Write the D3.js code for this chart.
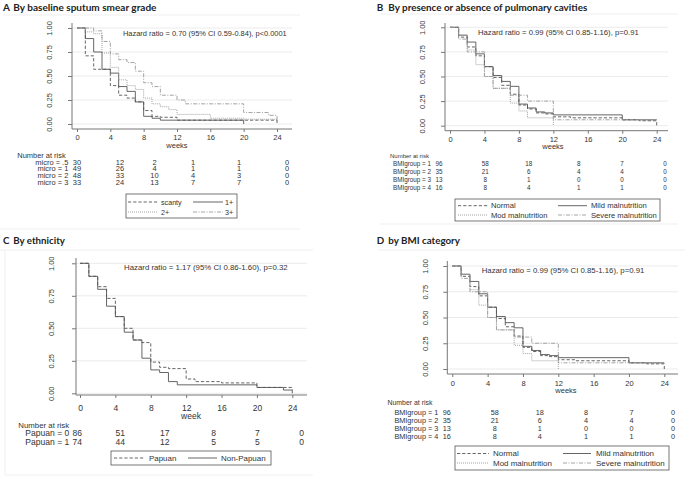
<!DOCTYPE html>
<html><head><meta charset="utf-8">
<script src="https://cdn.jsdelivr.net/npm/d3@7"></script>
<style>
body{margin:0;background:#fff;}
svg text{font-family:"Liberation Sans",Arial,sans-serif;fill:#333;}
svg text.title{font-family:Lato,"Open Sans",sans-serif;font-weight:700;fill:#222;}
</style></head><body>
<svg id="c" width="689" height="479"></svg>
<script>
// ---------- shared tick values ----------
const weekTicks = [0, 4, 8, 12, 16, 20, 24];
const survTicks = [0, 0.25, 0.5, 0.75, 1];

// ---------- Panel A: sputum smear grade ----------
const smearScanty = [[0,1],[1,.71],[2,.57],[4,.40],[5,.30],[6,.27],[7,.23],[8,.14],[9,.08],[10,.07],[12,.04],[24,0]];
const smearOne    = [[0,1],[1,.89],[2,.75],[3,.57],[4,.53],[5,.39],[6,.34],[7,.23],[8,.08],[9,.06],[10,.04],[20,0]];
const smearTwo    = [[0,1],[1,.96],[2,.94],[3,.74],[4,.59],[5,.46],[6,.40],[7,.36],[8,.27],[9,.21],[10,.18],[11,.15],[12,.10],[16,.06],[20,.05],[24,0]];
const smearThree  = [[0,1],[2,.97],[3,.86],[4,.73],[5,.67],[6,.64],[7,.55],[8,.43],[9,.39],[10,.30],[12,.25],[13,.21],[20,.12],[23,.09],[24,0]];
const riskLabelsA = ["micro = .5", "micro = 1", "micro = 2", "micro = 3"];
const riskA = [[30,12,2,1,1,0],[49,26,4,1,1,0],[48,33,10,4,3,0],[33,24,13,7,7,0]];
const legendA = ["scanty", "1+", "2+", "3+"];

// ---------- Panels B and D: BMI groups ----------
const bmiNormal = [[0,1],[1,.90],[2,.80],[3,.71],[4,.60],[5,.49],[6,.41],[7,.32],[8,.21],[9,.17],[10,.13],[11,.12],[12,.09],[14,.08],[20,.06],[22,.05],[24,0]];
const bmiMild   = [[0,1],[1,.92],[2,.85],[3,.73],[4,.60],[5,.51],[6,.45],[7,.40],[8,.22],[9,.18],[10,.14],[11,.13],[12,.11],[20,.06],[24,.06]];
const bmiMod    = [[0,1],[1,.92],[2,.77],[3,.62],[4,.50],[5,.38],[7,.23],[8,.15],[9,.08],[12,0]];
const bmiSevere = [[0,1],[1,.88],[2,.75],[4,.50],[5,.38],[7,.31],[9,.25],[12,.06],[24,.06]];
const riskLabelsBMI = ["BMIgroup = 1", "BMIgroup = 2", "BMIgroup = 3", "BMIgroup = 4"];
const riskBMI = [[96,58,18,8,7,0],[35,21,6,4,4,0],[13,8,1,0,0,0],[16,8,4,1,1,0]];
const legendBMI = ["Normal", "Mild malnutrition", "Mod malnutrition", "Severe malnutrition"];

// ---------- Panel C: ethnicity ----------
const papuan    = [[0,1],[1,.90],[2,.82],[3,.73],[4,.59],[5,.50],[6,.41],[7,.39],[8,.24],[9,.20],[10,.19],[12,.11],[13,.09],[16,.08],[20,.045],[24,.03]];
const nonPapuan = [[0,1],[1,.90],[2,.80],[3,.67],[4,.59],[5,.47],[6,.41],[7,.27],[8,.18],[9,.16],[10,.09],[11,.065],[20,.045],[23,.025],[24,0]];
const riskLabelsC = ["Papuan = 0", "Papuan = 1"];
const riskC = [[86,51,17,8,7,0],[74,44,12,5,5,0]];
const legendC = ["Papuan", "Non-Papuan"];

const hrTexts = [
  "Hazard ratio = 0.70 (95% CI 0.59-0.84), p<0.0001",
  "Hazard ratio = 0.99 (95% CI 0.85-1.16), p=0.91",
  "Hazard ratio = 1.17 (95% CI 0.86-1.60), p=0.32",
  "Hazard ratio = 0.99 (95% CI 0.85-1.16), p=0.91"
];

// ---------- styles ----------
const STY = {
  dash:    {stroke:"#555", dash:"3.2,2"},
  solid:   {stroke:"#555", dash:null},
  dot:     {stroke:"#9a9a9a", dash:"1,1"},
  dashdot: {stroke:"#9a9a9a", dash:"4,1.5,1,1.5"}
};
const BODY = '"Liberation Sans",Arial,sans-serif';
const HEAD = 'Lato,"Open Sans",sans-serif';

const panels = [
  { letter:"A", sub:"By baseline sputum smear grade", letterX:3, subX:13.3, titleY:10.5, subW:143.4,
    sep:[[3,15,300,15],[0,229,300,229]],
    axisX:72, axisXEnd:292, axisYTop:23, axisY:129, x0:77, x24:277, y1:28, y0:124,
    ylabX:49, tickFont:7.5, xlabY:137.3, xTitle:"weeks", xTitleX:177, xTitleY:145,
    hr:hrTexts[0], hrX:123, hrY:33, hrW:164,
    series:[{d:smearScanty,s:"dash"},{d:smearOne,s:"solid"},{d:smearTwo,s:"dot"},{d:smearThree,s:"dashdot"}],
    narX:17.3, narY:155, narW:48.4, rowRight:68.3, labW:33, rowY0:162, rowStep:6.7,
    riskCols:[77,120,154.5,193,239,287], riskLabels:riskLabelsA, risk:riskA,
    leg:{x:126,y:194,w:111,h:24, ref:legendA[0], refW:20.7, items:[
      {t:legendA[0],s:"dash",l0:128,l1:158,tx:161,ty:202},
      {t:legendA[1],s:"solid",l0:193,l1:223,tx:225,ty:202},
      {t:legendA[2],s:"dot",l0:128,l1:158,tx:161,ty:212},
      {t:legendA[3],s:"dashdot",l0:193,l1:223,tx:225,ty:212}]}
  },
  { letter:"B", sub:"By presence or absence of pulmonary cavities", letterX:376.7, subX:388.3, titleY:10.5, subW:199,
    sep:[[380,14,678,14],[380,224,678,224]],
    axisX:445, axisXEnd:668, axisYTop:23, axisY:130.7, x0:450, x24:656.7, y1:27.3, y0:125.7,
    ylabX:422.7, tickFont:7.5, xlabY:139.3, xTitle:"weeks", xTitleX:553, xTitleY:146,
    hr:hrTexts[1], hrX:478, hrY:32, hrW:161,
    series:[{d:bmiNormal,s:"dash"},{d:bmiMild,s:"solid"},{d:bmiMod,s:"dot"},{d:bmiSevere,s:"dashdot"}],
    narX:390, narY:155.7, narW:39, rowRight:431, labW:38, rowY0:164, rowStep:7.8,
    riskCols:[439,485.3,528.8,578.7,622,665], riskLabels:riskLabelsBMI, risk:riskBMI,
    leg:{x:455,y:199,w:205,h:22, ref:legendBMI[1], refW:55.7, items:[
      {t:legendBMI[0],s:"dash",l0:458,l1:488,tx:491,ty:205.7},
      {t:legendBMI[1],s:"solid",l0:558,l1:587,tx:591,ty:205.7},
      {t:legendBMI[2],s:"dot",l0:458,l1:488,tx:491,ty:215},
      {t:legendBMI[3],s:"dashdot",l0:558,l1:587,tx:591,ty:215}]}
  },
  { letter:"C", sub:"By ethnicity", letterX:3, subX:13.3, titleY:244, subW:51.7,
    sep:[[0,250,313,250],[5,475,313,475],[5,250,5,475]],
    axisX:76, axisXEnd:307, axisYTop:258, axisY:395, x0:80, x24:292.3, y1:263.3, y0:393.3,
    ylabX:51.7, tickFont:8.5, xlabY:408.3, xTitle:"week", xTitleX:191, xTitleY:416,
    hr:hrTexts[2], hrX:124, hrY:267, hrW:164,
    series:[{d:papuan,s:"dash"},{d:nonPapuan,s:"solid"}],
    narX:18.3, narY:425, narW:51, rowRight:69.3, labW:44, rowY0:433.3, rowStep:9,
    riskCols:[77.3,120.3,164.8,213.7,257.3,301.7], riskLabels:riskLabelsC, risk:riskC,
    leg:{x:111,y:451,w:160,h:14, ref:legendC[1], refW:44.7, items:[
      {t:legendC[0],s:"dash",l0:114,l1:144,tx:149,ty:458},
      {t:legendC[1],s:"solid",l0:188,l1:217,tx:221,ty:458}]}
  },
  { letter:"D", sub:"by BMI category", letterX:376.7, subX:388.3, titleY:244.3, subW:71.7,
    sep:[[378,250,685,250]],
    axisX:447.3, axisXEnd:678, axisYTop:261, axisY:374, x0:452.3, x24:664.3, y1:266, y0:369,
    ylabX:425, tickFont:7.5, xlabY:383, xTitle:"weeks", xTitleX:566, xTitleY:390,
    hr:hrTexts[3], hrX:481.7, hrY:270, hrW:163,
    series:[{d:bmiNormal,s:"dash"},{d:bmiMild,s:"solid"},{d:bmiMod,s:"dot"},{d:bmiSevere,s:"dashdot"}],
    narX:387.5, narY:403, narW:45, rowRight:438.3, labW:44, rowY0:412, rowStep:8,
    riskCols:[446.8,494.7,539.8,586,631.5,673], riskLabels:riskLabelsBMI, risk:riskBMI,
    leg:{x:455,y:446,w:214,h:24, ref:legendBMI[3], refW:68.7, items:[
      {t:legendBMI[0],s:"dash",l0:457,l1:489,tx:493,ty:453.5},
      {t:legendBMI[1],s:"solid",l0:563,l1:591,tx:596,ty:453.5},
      {t:legendBMI[2],s:"dot",l0:457,l1:489,tx:493,ty:463},
      {t:legendBMI[3],s:"dashdot",l0:563,l1:591,tx:596,ty:463}]}
  }
];

const svg = d3.select("#c");

// font size that makes a string span a given width
function fitSize(str, width, family, weight){
  const t = svg.append("text").attr("font-size",20).style("font-family",family)
    .style("font-weight",weight||400).text(str);
  const w = t.node().getComputedTextLength();
  t.remove();
  return w > 0 ? 20*width/w : 8;
}

function styleLine(sel, s){
  sel.attr("stroke", STY[s].stroke).attr("stroke-width", 0.9).attr("fill","none");
  if (STY[s].dash) sel.attr("stroke-dasharray", STY[s].dash);
}

function drawPanel(p){
  const g = svg.append("g");
  p.sep.forEach(s => g.append("line").attr("x1",s[0]).attr("y1",s[1]).attr("x2",s[2]).attr("y2",s[3])
    .attr("stroke","#efefef").attr("stroke-width",1));
  const tf = fitSize(p.sub, p.subW, HEAD, 700);
  g.append("text").attr("class","title").attr("x",p.letterX).attr("y",p.titleY).attr("font-size",tf).text(p.letter);
  g.append("text").attr("class","title").attr("x",p.subX).attr("y",p.titleY).attr("font-size",tf).text(p.sub);

  const x = d3.scaleLinear().domain([0,24]).range([p.x0,p.x24]);
  const y = d3.scaleLinear().domain([0,1]).range([p.y0,p.y1]);

  // grid
  g.append("g").selectAll("line").data(survTicks).join("line")
    .attr("x1",p.axisX).attr("x2",p.axisXEnd).attr("y1",d=>y(d)).attr("y2",d=>y(d))
    .attr("stroke","#e6e6e6").attr("stroke-width",0.8);

  // curves
  const line = d3.line().x(d=>x(d[0])).y(d=>y(d[1])).curve(d3.curveStepAfter);
  p.series.forEach(s => {
    g.append("path").datum(s.d).attr("d", line).call(styleLine, s.s);
  });

  // x axis
  const xa = g.append("g").attr("transform",`translate(0,${p.axisY})`)
    .call(d3.axisBottom(x).tickValues(weekTicks).tickSize(3).tickSizeOuter(0));
  xa.attr("font-family",null).attr("font-size",p.tickFont);
  xa.select(".domain").remove();
  xa.append("line").attr("x1",p.axisX).attr("x2",p.axisXEnd).attr("stroke","#777").attr("stroke-width",1);
  xa.selectAll(".tick line").attr("stroke","#777");
  xa.selectAll(".tick text").attr("y",p.xlabY-p.axisY).attr("dy","0.35em").attr("fill","#333");
  g.append("text").attr("x",p.xTitleX).attr("y",p.xTitleY).attr("dy","0.35em").attr("text-anchor","middle")
    .attr("font-size",p.tickFont).text(p.xTitle);

  // y axis
  const ya = g.append("g").attr("transform",`translate(${p.axisX},0)`)
    .call(d3.axisLeft(y).tickValues(survTicks).tickFormat(d3.format(".2f")).tickSize(4).tickSizeOuter(0));
  ya.attr("font-family",null).attr("font-size",7.5);
  ya.select(".domain").remove();
  ya.append("line").attr("y1",p.axisYTop).attr("y2",p.axisY).attr("stroke","#777").attr("stroke-width",1);
  ya.selectAll(".tick line").attr("stroke","#777");
  ya.selectAll(".tick text").attr("x",0).attr("dy","0.35em").attr("text-anchor","middle")
    .attr("transform",`translate(${p.ylabX-p.axisX},0) rotate(-90)`).attr("fill","#333");

  // hazard ratio
  const hf = fitSize(p.hr, p.hrW, BODY);
  g.append("text").attr("x",p.hrX).attr("y",p.hrY).attr("dy","0.35em").attr("font-size",hf).text(p.hr);

  // number at risk
  const nf = fitSize("Number at risk", p.narW, BODY);
  const rf = fitSize(p.riskLabels[0], p.labW, BODY);
  const col = d3.scaleLinear().domain(weekTicks).range(p.riskCols);
  g.append("text").attr("x",p.narX).attr("y",p.narY).attr("dy","0.35em").attr("font-size",nf).text("Number at risk");
  p.risk.forEach((row,i) => {
    const yy = p.rowY0 + i*p.rowStep;
    g.append("text").attr("x",p.rowRight).attr("y",yy).attr("dy","0.35em").attr("text-anchor","end")
      .attr("font-size",rf).text(p.riskLabels[i]);
    g.append("g").selectAll("text").data(row).join("text")
      .attr("x",(d,j)=>col(weekTicks[j])).attr("y",yy).attr("dy","0.35em").attr("text-anchor","middle")
      .attr("font-size",rf).text(d=>d);
  });

  // legend
  const L = p.leg;
  const lf = fitSize(L.ref, L.refW, BODY);
  g.append("rect").attr("x",L.x).attr("y",L.y).attr("width",L.w).attr("height",L.h)
    .attr("fill","#fff").attr("stroke","#555").attr("stroke-width",0.8);
  L.items.forEach(it => {
    g.append("line").attr("x1",it.l0).attr("x2",it.l1).attr("y1",it.ty).attr("y2",it.ty).call(styleLine,it.s);
    g.append("text").attr("x",it.tx).attr("y",it.ty).attr("dy","0.35em").attr("font-size",lf).text(it.t);
  });
}

panels.forEach(drawPanel);
</script>
</body></html>
